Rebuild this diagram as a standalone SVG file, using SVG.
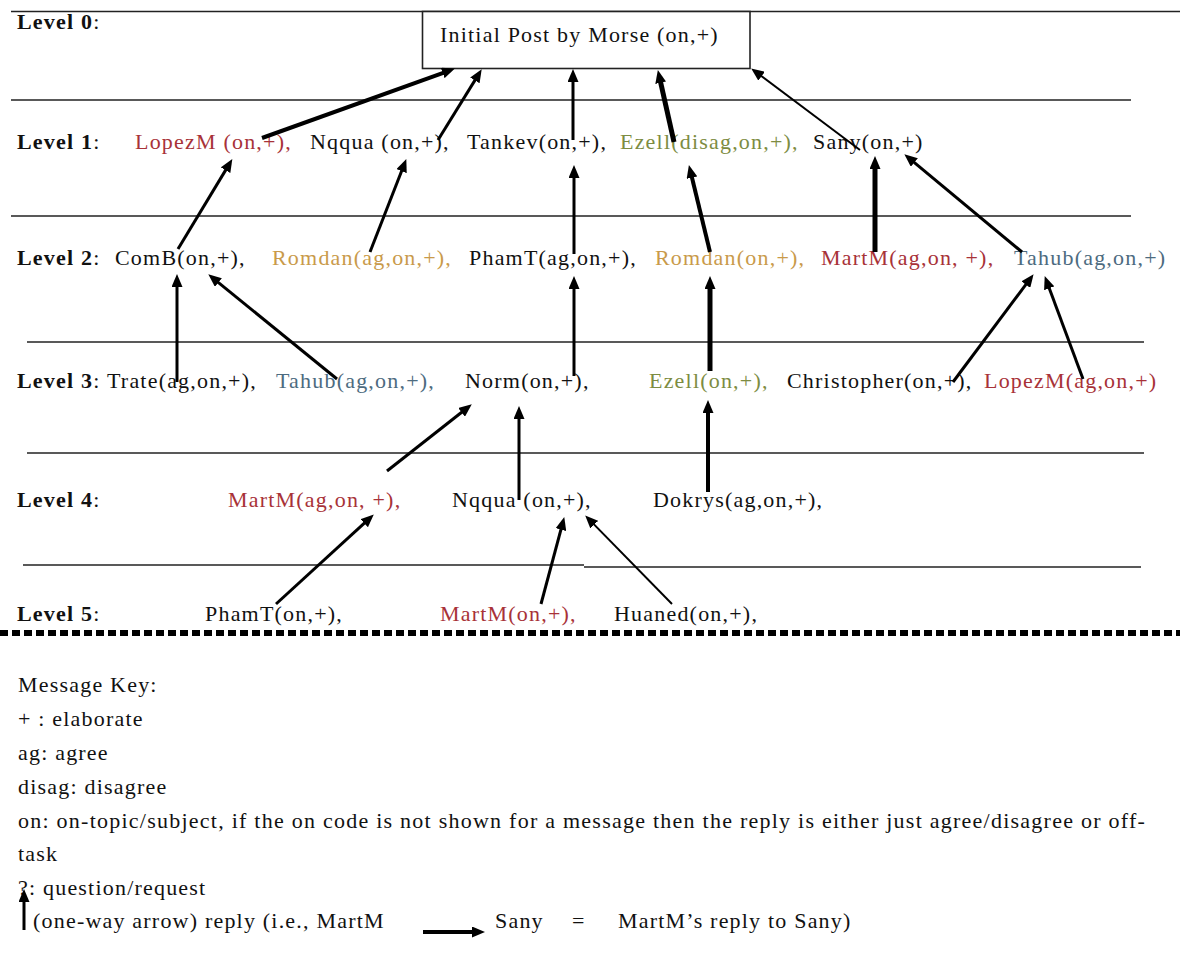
<svg xmlns="http://www.w3.org/2000/svg" width="1180" height="957" viewBox="0 0 1180 957">
<style>
text{font-family:"Liberation Serif","Times New Roman",serif;font-size:22px;letter-spacing:1.2px;fill:#111}
.lv{font-weight:bold}
.red{fill:#a83238}
.org{fill:#c99a4a}
.grn{fill:#7d8c42}
.blu{fill:#4d6b80}
.rule{stroke:#222;stroke-width:1.6;fill:none}
.ar{stroke:#000;fill:none;marker-end:url(#ah)}
</style>
<defs>
<marker id="ah" viewBox="0 0 13 11" refX="5" refY="5.5" markerWidth="13" markerHeight="11" markerUnits="userSpaceOnUse" orient="auto"><path d="M0,0 L13,5.5 L0,11 z" fill="#000"/></marker>
</defs>
<rect width="1180" height="957" fill="#fff"/>
<g id="rules">
<line class="rule" x1="11" y1="11.5" x2="1180" y2="11.5"/>
<line class="rule" x1="11" y1="100" x2="1131" y2="100"/>
<line class="rule" x1="11" y1="216" x2="1131" y2="216"/>
<line class="rule" x1="27" y1="342" x2="1144" y2="342"/>
<line class="rule" x1="27" y1="453" x2="1144" y2="453"/>
<line class="rule" x1="23" y1="565" x2="584" y2="565"/>
<line class="rule" x1="584" y1="567" x2="1141" y2="567"/>
<line x1="0" y1="633" x2="1180" y2="633" stroke="#000" stroke-width="6" stroke-dasharray="8 4"/>
</g>
<g id="levels">
<text class="lv" x="17" y="29">Level 0<tspan font-weight="normal">:</tspan></text>
<text class="lv" x="17" y="149">Level 1<tspan font-weight="normal">:</tspan></text>
<text class="lv" x="17" y="265">Level 2<tspan font-weight="normal">:</tspan></text>
<text class="lv" x="17" y="388">Level 3<tspan font-weight="normal">:</tspan></text>
<text class="lv" x="17" y="507">Level 4<tspan font-weight="normal">:</tspan></text>
<text class="lv" x="17" y="621">Level 5<tspan font-weight="normal">:</tspan></text>
</g>
<g id="root"><rect x="422.5" y="11.5" width="327.5" height="57" fill="#fff" stroke="#222" stroke-width="1.6"/><text x="440" y="42">Initial Post by Morse (on,+)</text></g>
<g id="l1-lopezm"><text class="red" x="135" y="149">LopezM (on,+),</text></g>
<g id="l1-nqqua"><text x="310" y="149">Nqqua (on,+),</text></g>
<g id="l1-tankev"><text x="467" y="149">Tankev(on,+),</text></g>
<g id="l1-ezell"><text class="grn" x="620" y="149">Ezell(disag,on,+),</text></g>
<g id="l1-sany"><text x="813" y="149">Sany(on,+)</text></g>
<g id="l2-comb"><text x="115" y="265">ComB(on,+),</text></g>
<g id="l2-romdan-ag"><text class="org" x="272" y="265">Romdan(ag,on,+),</text></g>
<g id="l2-phamt"><text x="469" y="265">PhamT(ag,on,+),</text></g>
<g id="l2-romdan"><text class="org" x="655" y="265">Romdan(on,+),</text></g>
<g id="l2-martm"><text class="red" x="821" y="265">MartM(ag,on, +),</text></g>
<g id="l2-tahub"><text class="blu" x="1014" y="265">Tahub(ag,on,+)</text></g>
<g id="l3-trate"><text x="107" y="388">Trate(ag,on,+),</text></g>
<g id="l3-tahub"><text class="blu" x="276" y="388">Tahub(ag,on,+),</text></g>
<g id="l3-norm"><text x="465" y="388">Norm(on,+),</text></g>
<g id="l3-ezell"><text class="grn" x="649" y="388">Ezell(on,+),</text></g>
<g id="l3-christopher"><text x="787" y="388">Christopher(on,+),</text></g>
<g id="l3-lopezm"><text class="red" x="984" y="388">LopezM(ag,on,+)</text></g>
<g id="l4-martm"><text class="red" x="228" y="507">MartM(ag,on, +),</text></g>
<g id="l4-nqqua"><text x="452" y="507">Nqqua (on,+),</text></g>
<g id="l4-dokrys"><text x="653" y="507">Dokrys(ag,on,+),</text></g>
<g id="l5-phamt"><text x="205" y="621">PhamT(on,+),</text></g>
<g id="l5-martm"><text class="red" x="440" y="621">MartM(on,+),</text></g>
<g id="l5-huaned"><text x="614" y="621">Huaned(on,+),</text></g>
<g id="connectors">
<line class="ar" stroke-width="4" x1="262" y1="138" x2="447.4" y2="71.3"/>
<line class="ar" stroke-width="3" x1="438" y1="140" x2="477.5" y2="76.1"/>
<line class="ar" stroke-width="3" x1="573" y1="140" x2="573" y2="77"/>
<line class="ar" stroke-width="5" x1="674" y1="142" x2="659.6" y2="77.8"/>
<line class="ar" stroke-width="2" x1="860" y1="150" x2="757.6" y2="73.2"/>
<line class="ar" stroke-width="3" x1="178" y1="249" x2="228.2" y2="165.9"/>
<line class="ar" stroke-width="3" x1="370" y1="252" x2="403.4" y2="166.5"/>
<line class="ar" stroke-width="3" x1="574" y1="254" x2="574" y2="173"/>
<line class="ar" stroke-width="4" x1="710" y1="252" x2="690.8" y2="172.8"/>
<line class="ar" stroke-width="5" x1="875" y1="252" x2="875" y2="164"/>
<line class="ar" stroke-width="3" x1="1022" y1="252" x2="910.5" y2="159.3"/>
<line class="ar" stroke-width="3" x1="177" y1="382" x2="177" y2="282"/>
<line class="ar" stroke-width="3" x1="337" y1="379" x2="214.5" y2="279.4"/>
<line class="ar" stroke-width="3" x1="574" y1="376" x2="574" y2="284"/>
<line class="ar" stroke-width="5" x1="710" y1="371" x2="710" y2="284"/>
<line class="ar" stroke-width="3" x1="953" y1="382" x2="1028.8" y2="280.6"/>
<line class="ar" stroke-width="3" x1="1083" y1="379" x2="1047.5" y2="283.6"/>
<line class="ar" stroke-width="3" x1="387" y1="471" x2="465.5" y2="409.3"/>
<line class="ar" stroke-width="3" x1="519" y1="500" x2="519" y2="414"/>
<line class="ar" stroke-width="4" x1="708" y1="492" x2="708" y2="408"/>
<line class="ar" stroke-width="3" x1="276" y1="604" x2="367.9" y2="519.8"/>
<line class="ar" stroke-width="3" x1="541" y1="604" x2="562.2" y2="524.8"/>
<line class="ar" stroke-width="2" x1="672" y1="604" x2="590.8" y2="521.1"/>
</g>
<g id="key">
<text x="18" y="692">Message Key:</text>
<text x="18" y="726">+ : elaborate</text>
<text x="18" y="760">ag: agree</text>
<text x="18" y="794">disag: disagree</text>
<text x="18" y="828" textLength="1128" lengthAdjust="spacing">on: on-topic/subject, if the on code is not shown for a message then the reply is either just agree/disagree or off-</text>
<text x="18" y="861">task</text>
<text x="18" y="895">?: question/request</text>
<line class="ar" stroke-width="3" x1="24" y1="930" x2="24" y2="897"/>
<text x="33" y="928">(one-way arrow) reply (i.e., MartM</text>
<line class="ar" stroke-width="4" x1="423" y1="932" x2="477" y2="932"/>
<text x="495" y="928">Sany</text>
<text x="572" y="928">=</text>
<text x="618" y="928">MartM’s reply to Sany)</text>
</g>
</svg>
